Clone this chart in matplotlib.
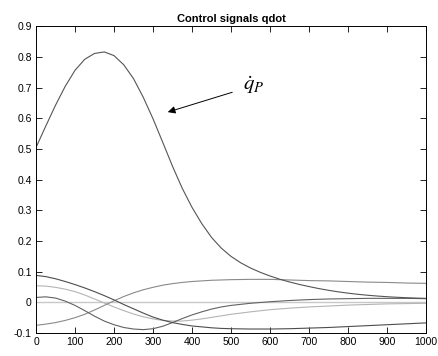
import matplotlib
matplotlib.use('Agg')
import matplotlib.pyplot as plt

# main signal, sampled every 25
x_main = list(range(0, 1001, 25))
q_p = [0.505, 0.575, 0.643, 0.705, 0.757, 0.793, 0.812, 0.817, 0.805, 0.775,
       0.730, 0.669, 0.599, 0.522, 0.444, 0.372, 0.310, 0.257, 0.212, 0.177,
       0.150, 0.129, 0.112, 0.098, 0.086, 0.0755, 0.0665, 0.0585, 0.0515, 0.0450,
       0.0393, 0.0343, 0.0300, 0.0263, 0.0232, 0.0206, 0.0184, 0.0166, 0.0151, 0.0139,
       0.0130]

# the small signals: every 25 up to 475, then every 50
x_small = list(range(0, 500, 25)) + list(range(500, 1001, 50))
sig_a = [0.088, 0.084, 0.077, 0.068, 0.058, 0.047, 0.035, 0.022, 0.008, -0.007,
         -0.021, -0.035, -0.048, -0.058, -0.066, -0.072, -0.077, -0.080, -0.083, -0.085,
         -0.086, -0.087, -0.087, -0.086, -0.084, -0.082, -0.079, -0.076, -0.073, -0.070,
         -0.067]
sig_b = [0.054, 0.053, 0.049, 0.043, 0.035, 0.024, 0.011, -0.002, -0.015, -0.027,
         -0.038, -0.047, -0.054, -0.059, -0.061, -0.061, -0.058, -0.054, -0.049, -0.044,
         -0.039, -0.031, -0.024, -0.019, -0.015, -0.012, -0.009, -0.007, -0.005, -0.004,
         -0.003]
sig_c = [0.016, 0.018, 0.014, 0.004, -0.010, -0.027, -0.045, -0.061, -0.073, -0.082,
         -0.087, -0.089, -0.086, -0.078, -0.066, -0.053, -0.041, -0.031, -0.022, -0.015,
         -0.010, -0.003, 0.002, 0.006, 0.009, 0.011, 0.012, 0.013, 0.013, 0.013,
         0.012]
sig_d = [-0.075, -0.071, -0.066, -0.059, -0.050, -0.039, -0.025, -0.010, 0.005, 0.019,
         0.031, 0.041, 0.049, 0.056, 0.061, 0.065, 0.068, 0.070, 0.072, 0.073,
         0.074, 0.075, 0.075, 0.073, 0.071, 0.070, 0.068, 0.066, 0.065, 0.063,
         0.062]
sig_f = [0.0] * len(x_small)

xticks = list(range(0, 1001, 100))
yticks = [-0.1, 0, 0.1, 0.2, 0.3, 0.4, 0.5, 0.6, 0.7, 0.8, 0.9]
ytick_labels = ['-0.1', '0', '0.1', '0.2', '0.3', '0.4', '0.5', '0.6', '0.7', '0.8', '0.9']

plt.rcParams['font.family'] = ['Liberation Sans', 'DejaVu Sans']
plt.rcParams['mathtext.fontset'] = 'stix'

fig = plt.figure(figsize=(4.38, 3.56), dpi=100)
ax = fig.add_axes([0.0822, 0.0646, 0.8904, 0.861])

ax.plot(x_small, sig_f, color='#c8c8c8', lw=1.0)
ax.plot(x_small, sig_b, color='#b4b4b4', lw=0.8)
ax.plot(x_small, sig_d, color='#8a8a8a', lw=0.8)
ax.plot(x_small, sig_c, color='#626262', lw=0.8)
ax.plot(x_small, sig_a, color='#4d4d4d', lw=0.8)
ax.plot(x_main, q_p, color='#555555', lw=0.8)

ax.annotate('', xy=(331, 0.618), xytext=(510, 0.688),
            arrowprops=dict(arrowstyle='-|>', color='black', lw=0.7, mutation_scale=11))
ax.text(530, 0.71, r'$\dot{q}_P$', fontsize=15, ha='left', va='center')

ax.set_xlim(0, 1000)
ax.set_ylim(-0.1, 0.9)
ax.set_xticks(xticks)
ax.set_yticks(yticks)
ax.set_yticklabels(ytick_labels)
ax.tick_params(direction='in', top=True, right=True, length=4, width=0.6,
               labelsize=7.5, pad=3)
for s in ax.spines.values():
    s.set_linewidth(0.7)
ax.set_title('Control signals qdot', fontsize=8, fontweight='bold', pad=3)

fig.savefig('out.png', dpi=100)
